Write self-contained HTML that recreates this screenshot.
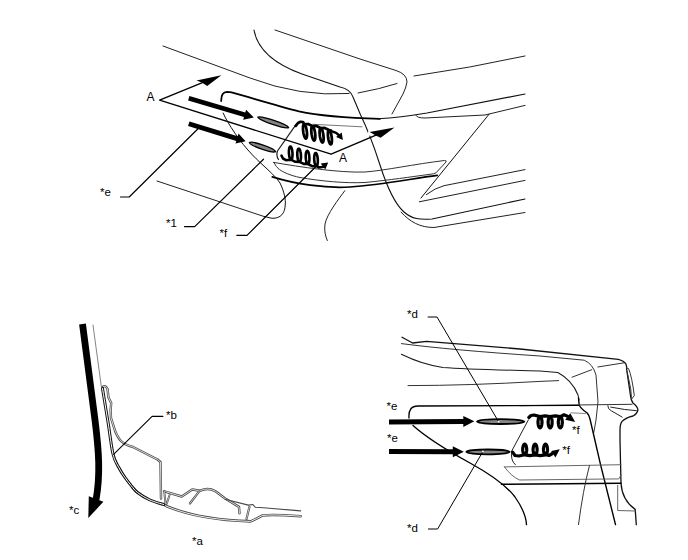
<!DOCTYPE html>
<html><head><meta charset="utf-8"><style>
html,body{margin:0;padding:0;background:#fff;width:688px;height:560px;overflow:hidden}
svg{display:block}
text{font-family:"Liberation Sans",sans-serif;fill:#000}
</style></head><body>
<svg width="688" height="560" viewBox="0 0 688 560">
<rect width="688" height="560" fill="#fff"/>
<g fill="none" stroke-linecap="round" stroke-linejoin="round">
<path d="M163,46 L250,78 Q300,97 349,93.5" stroke-width="1.0" stroke="#222"/>
<path d="M358,93 Q380,89 397,83.5" stroke-width="1.0" stroke="#222"/>
<path d="M254,30 C257,47 272,63 302,74 L340,87 Q350,89 353,97 L360.6,115 C366,126 372,140 380,165 C388,190 396,205 404,212 C412,219 420,220 432,219 L525,199" stroke-width="1.1" stroke="#111"/>
<path d="M401,212 C410,222 420,227.5 434,227.5 L525,212.5" stroke-width="1.0" stroke="#222"/>
<path d="M275,30 L360,59 L396,70.5 Q407,74 407,82 Q406,88 403,94 L392,114" stroke-width="1.0" stroke="#222"/>
<path d="M414,76 Q470,68 525,56" stroke-width="1.0" stroke="#222"/>
<path d="M221.2,101 Q221,92 227,91.8 L231.6,92.4 C255,99 278,106 299,111.4 C320,116 340,117.8 380,118.8" stroke-width="1.8" stroke="#000"/>
<path d="M378,118.8 Q400,117.5 427,113 L525,94" stroke-width="1.15" stroke="#111"/>
<path d="M223.1,113 C228,124 240,142 252.5,155 C262,165 275,175 280,183 C284,191 286,200 285.2,205 C285,213 281,218.5 272,218.3 L264.4,216.5" stroke-width="1.0" stroke="#111"/>
<path d="M157,181 L264,216.5" stroke-width="1.0" stroke="#222"/>
<path d="M313,124.3 L362,126.8" stroke-width="1.0" stroke="#777"/>
<path d="M416,115.5 Q417,118 425,118 L485,115 L525,105.4" stroke-width="1.0" stroke="#222"/>
<path d="M489,114.3 L421,198" stroke-width="1.0" stroke="#111"/>
<path d="M426.4,194.6 Q435,188 444,185.7 L525,169.6" stroke-width="1.0" stroke="#222"/>
<path d="M419.3,201.8 L525,180.4" stroke-width="1.0" stroke="#222"/>
<path d="M273.7,162.4 C300,167 340,173 365,172 C385,170.5 415,164 444.5,160.5 Q447,160.5 446,162 L436,172.8 Q434,174 430,174.3 C410,177 390,180 365,182.5 C345,183.5 320,181 300,177.5 C290,175.5 283,172 279.5,169.6 Q276,167 273.7,162.4 Z" stroke-width="1.0" stroke="#333"/>
<path d="M272.3,176.9 C295,184 325,188.5 350,187 C380,185 410,179 437.2,175.4" stroke-width="1.7" stroke="#000"/>
<path d="M344.8,190.7 C338,200 327,214 325,224 C324,231 325.5,236 327.3,240.5" stroke-width="1.0" stroke="#222"/>
<path d="M295.6,125.1 L277.5,151 Q275.8,155.5 278.5,159.5" stroke-width="1.25" stroke="#222"/>
<path d="M203,82.3 L159.6,100.1 L331.1,154.2 L376,135.2" stroke-width="1.4" stroke="#000"/>
<path d="M199,127.8 L129.2,197 L120.5,197" stroke-width="1.2" stroke="#000"/>
<path d="M263.5,159.2 L194.7,226.6 L184.5,226.6" stroke-width="1.2" stroke="#000"/>
<path d="M316,166.5 L247,235.3 L236.8,235.3" stroke-width="1.2" stroke="#000"/>
<path d="M331.8,131.4 Q337,132.5 339.5,136" stroke-width="2.4" stroke="#000"/>
<path d="M93,325 L101.4,387" stroke-width="0.8" stroke="#666"/>
<path d="M82.5,324 L95,420 C99,452 100.5,475 96,500" fill="none" stroke="#000" stroke-width="6.8" stroke-linecap="butt"/>
<path d="M102.8,387 Q105.5,384.5 107.5,389 L108.5,397.5 L111.2,403 L110.6,410 L111,418 L115,430.7 Q118,438 121,441 Q125,445 133,447 L157.5,459.5 L160.5,462 L161,498.5" stroke-width="2.4" stroke="#484848"/>
<path d="M102.8,387 Q105.5,384.5 107.5,389 L108.5,397.5 L111.2,403 L110.6,410 L111,418 L115,430.7 Q118,438 121,441 Q125,445 133,447 L157.5,459.5 L160.5,462 L161,498.5" stroke-width="0.8" stroke="#fff"/>
<path d="M164.3,491.3 L181.7,496.5 L192.2,489.5 L200.3,490.7 Q208,487 215.5,491.3 L224.8,498.3 L239,506.9 L239.5,513.3" stroke-width="2.4" stroke="#484848"/>
<path d="M164.3,491.3 L181.7,496.5 L192.2,489.5 L200.3,490.7 Q208,487 215.5,491.3 L224.8,498.3 L239,506.9 L239.5,513.3" stroke-width="0.8" stroke="#fff"/>
<path d="M199.2,491.3 L189.9,503.5" stroke-width="2.2" stroke="#484848"/>
<path d="M199.2,491.3 L189.9,503.5" stroke-width="0.7" stroke="#fff"/>
<path d="M164.3,491.3 L165.5,504 M169.5,495.3 L166.6,504" stroke-width="2.0" stroke="#484848"/>
<path d="M164.3,491.3 L165.5,504 M169.5,495.3 L166.6,504" stroke-width="0.6" stroke="#fff"/>
<path d="M225,499.3 L248.3,505.1 L252.9,504.5 L255.2,507.2 L263.4,507.7 L300.6,510.9" stroke-width="1.1" stroke="#484848"/>
<path d="M225,499.3 L248.3,505.1 L252.9,504.5 L255.2,507.2 L263.4,507.7 L300.6,510.9" stroke-width="0.01" stroke="#fff"/>
<path d="M249.4,506.9 L246.5,519" stroke-width="2.2" stroke="#484848"/>
<path d="M249.4,506.9 L246.5,519" stroke-width="0.7" stroke="#fff"/>
<path d="M165.5,505.8 C185,514 210,520 250.6,521.4 Q256,519 262.2,515.6 Q270,514 300.6,516.2" stroke-width="2.6" stroke="#484848"/>
<path d="M165.5,505.8 C185,514 210,520 250.6,521.4 Q256,519 262.2,515.6 Q270,514 300.6,516.2" stroke-width="0.9" stroke="#fff"/>
<path d="M102.5,388.5 C103.4,394.1 106.2,411.1 108,422 C109.8,432.9 111.2,446.4 113,454 C114.8,461.6 116.8,463.6 118.8,467.5 C120.8,471.4 122.9,474.5 125,477.5 C127.1,480.5 129.2,483.1 131.2,485.6 C133.3,488.1 134.4,490.1 137.5,492.5 C140.6,494.9 145.6,498 150,500 C154.4,502 161.4,503.8 163.7,504.5" stroke-width="3.0" stroke="#111"/>
<path d="M102.5,388.5 C103.4,394.1 106.2,411.1 108,422 C109.8,432.9 111.2,446.4 113,454 C114.8,461.6 116.8,463.6 118.8,467.5 C120.8,471.4 122.9,474.5 125,477.5 C127.1,480.5 129.2,483.1 131.2,485.6 C133.3,488.1 134.4,490.1 137.5,492.5 C140.6,494.9 145.6,498 150,500 C154.4,502 161.4,503.8 163.7,504.5" stroke-width="1.0" stroke="#fff"/>
<path d="M162.9,416.4 L152.1,416.4 L113.6,454.3" stroke-width="1.1" stroke="#000"/>
<path d="M402,337.2 L412.6,343 L426.5,341.4 L520,349 L618.3,359.3 Q624,361 625.7,363.6 Q626.8,366 626.6,369 L630.7,397 Q631.5,401 633,403 Q638,407 637.9,410 Q637,414 633,416 Q626,417.5 622.1,421.4 Q620,424 620,430 L620,440 L621,483.2 Q622,500 635.2,509.4 L636.3,524.6" stroke-width="1.3" stroke="#111"/>
<path d="M401.4,343.6 Q450,350 540,356 L584.2,360.2 Q593,364 596,375 L598,401.8 L596,420 L593.7,433" stroke-width="1.0" stroke="#333"/>
<path d="M401.4,354.3 C415,361 428,365.5 442.8,367.4 C470,369.5 510,370 540,371 L557.8,372.5 Q572,380 578,395 L579,400" stroke-width="1.05" stroke="#1a1a1a"/>
<path d="M578.5,398 L579.2,405 Q581,409 587.2,413 Q589,415 590,419 L600.3,463.6 L615.5,524.6" stroke-width="1.4" stroke="#000"/>
<path d="M408,385.6 Q470,385.5 540,381.4 L558.7,380.6" stroke-width="1.0" stroke="#333"/>
<path d="M572,377.2 L591.8,369.7" stroke-width="1.0" stroke="#333"/>
<path d="M597.9,367 L623.6,362.9" stroke-width="1.0" stroke="#333"/>
<path d="M626.4,367.9 L628.6,368.6 Q632,377 634.3,395.7 L631.4,399.3 M627.1,371.4 L630.7,388.6 L631.4,397" stroke-width="1.0" stroke="#333"/>
<path d="M520,405.7 L632.1,404.3" stroke-width="1.0" stroke="#333"/>
<path d="M607.9,405.7 L608.6,408.6 Q611,411 615,412.9 L622.1,417.1 M610.7,407.1 Q625,410 636.4,410.7" stroke-width="1.0" stroke="#222"/>
<path d="M409,418 Q408,406 418,406 L578.3,405.4" stroke-width="1.3" stroke="#000"/>
<path d="M413,425.5 C428,439 450,452 470,463 C490,474 506,485 515,497 C522,507 526,516 526.5,524.6" stroke-width="1.3" stroke="#000"/>
<path d="M501.5,484.3 L621,483.2" stroke-width="1.6" stroke="#000"/>
<path d="M504.4,466.9 L621,464.7" stroke-width="0.9" stroke="#555"/>
<path d="M504.4,466.9 Q512,477 519.6,480 L618.8,478.9 L621,475" stroke-width="0.9" stroke="#555"/>
<path d="M617.7,485.4 L617.7,510.5 L635.2,511" stroke-width="0.9" stroke="#555"/>
<path d="M589.4,465.8 Q583,490 578.5,524.6" stroke-width="1.0" stroke="#333"/>
<path d="M528.3,420 L512,450.5 Q510,460 515.3,464.7" stroke-width="1.0" stroke="#222"/>
<path d="M571,412.8 L585.8,413.6" stroke-width="0.9" stroke="#777"/>
</g>
<g fill="#000">
<polygon points="221.4,75.3 196.5,80.4 201.9,82.6 207.2,86"/>
<polygon points="188.1,100.5 244,117 243.2,119.8 253.8,117.5 246.1,109.8 245.3,112.6 189.4,96.1"/>
<polygon points="188,126 236.3,140.9 235.5,143.6 245.6,141.2 238.5,133.6 237.7,136.3 189.5,121.5"/>
<polygon points="342.9,139.9 336.1,136.9 338.9,134.8 341.7,132.6"/>
<polygon points="328.2,162.5 325.3,169.5 323,166.4 320.7,163.4"/>
<polygon points="88.8,496.2 103.4,501.8 88.3,518"/>
<polygon points="389,424.5 463.3,423.9 463.3,426.9 474.3,421.3 463.3,415.9 463.3,418.9 389,419.5"/>
<polygon points="389,454 452.8,454.2 452.8,457.2 463.8,451.7 452.8,446.2 452.8,449.2 389,449"/>
<polygon points="570.3,413.2 575.2,422 565.2,419.8"/>
<polygon points="551.2,451 559.8,449.2 555.4,457.6"/>
</g>
<g fill="#858585" stroke="#000" stroke-linejoin="round">
<path d="M257.9,117.2 C261.1,115.3 287.2,124.2 288.6,127.6 C285.4,129.5 259.3,120.6 257.9,117.2 Z" stroke-width="1.35"/>
<path d="M249.4,142.6 C252.2,140.6 274.6,148.3 275.6,151.6 C272.8,153.6 250.4,145.9 249.4,142.6 Z" stroke-width="1.35"/>
<path d="M477.1,421.6 C480.6,418.4 520.8,418.4 524.3,421.6 C520.8,424.8 480.6,424.8 477.1,421.6 Z" stroke-width="1.8"/>
<path d="M466.4,451.9 C469.6,448.7 506.4,448.7 509.6,451.9 C506.4,455.1 469.6,455.1 466.4,451.9 Z" stroke-width="1.8"/>
</g>
<g fill="none" stroke="#000" stroke-width="2.9" stroke-linecap="round" stroke-linejoin="round">
<path d="M295.7,125.9 L298,123 L300.5,121.8 L303,122 L304.1,124.1 L304.4,124.1 L304.6,124.3 L304.9,124.6 L305.1,125 L305.4,125.6 L305.6,126.2 L305.9,126.9 L306.1,127.7 L306.3,128.5 L306.5,129.4 L306.7,130.4 L306.8,131.3 L306.9,132.2 L307,133.2 L307,134.1 L307,134.9 L307,135.7 L306.9,136.4 L306.8,137 L306.7,137.6 L306.5,138 L306.3,138.3 L306.1,138.5 L305.9,138.5 L305.6,138.5 L305.4,138.3 L305.1,138 L304.9,137.6 L304.6,137 L304.4,136.4 L304.1,135.7 L303.9,134.9 L303.7,134.1 L303.5,133.2 L303.3,132.2 L303.2,131.3 L303.1,130.4 L303,129.4 L303,128.5 L303,127.7 L303,126.9 L303.1,126.2 L303.2,125.6 L303.3,125 L303.5,124.6 L303.7,124.3 L303.9,124.1 L304.1,124.1 L308.1,124 L312.4,126 L312.7,126.1 L312.9,126.3 L313.2,126.6 L313.4,127 L313.7,127.5 L313.9,128.1 L314.2,128.9 L314.4,129.6 L314.6,130.5 L314.8,131.4 L315,132.3 L315.1,133.3 L315.2,134.2 L315.3,135.1 L315.3,136 L315.3,136.9 L315.3,137.7 L315.2,138.4 L315.1,139 L315,139.5 L314.8,140 L314.6,140.3 L314.4,140.5 L314.2,140.5 L313.9,140.5 L313.7,140.3 L313.4,140 L313.2,139.5 L312.9,139 L312.7,138.4 L312.4,137.7 L312.2,136.9 L312,136 L311.8,135.1 L311.6,134.2 L311.5,133.3 L311.4,132.3 L311.3,131.4 L311.3,130.5 L311.3,129.6 L311.3,128.9 L311.4,128.1 L311.5,127.5 L311.6,127 L311.8,126.6 L312,126.3 L312.2,126.1 L312.4,126 L316.4,125.9 L320.7,128 L321,128 L321.2,128.2 L321.5,128.5 L321.7,129 L322,129.5 L322.2,130.1 L322.5,130.8 L322.7,131.6 L322.9,132.5 L323.1,133.4 L323.3,134.3 L323.4,135.2 L323.5,136.2 L323.6,137.1 L323.6,138 L323.6,138.9 L323.6,139.6 L323.5,140.4 L323.4,141 L323.3,141.5 L323.1,141.9 L322.9,142.2 L322.7,142.4 L322.5,142.5 L322.2,142.4 L322,142.2 L321.7,141.9 L321.5,141.5 L321.2,141 L321,140.4 L320.7,139.6 L320.5,138.9 L320.3,138 L320.1,137.1 L319.9,136.2 L319.8,135.2 L319.7,134.3 L319.6,133.4 L319.6,132.5 L319.6,131.6 L319.6,130.8 L319.7,130.1 L319.8,129.5 L319.9,129 L320.1,128.5 L320.3,128.2 L320.5,128 L320.7,128 L324.7,127.9 L329,130 L329.3,130 L329.5,130.2 L329.8,130.5 L330,130.9 L330.3,131.5 L330.5,132.1 L330.8,132.8 L331,133.6 L331.2,134.4 L331.4,135.3 L331.6,136.3 L331.7,137.2 L331.8,138.1 L331.9,139.1 L331.9,140 L331.9,140.8 L331.9,141.6 L331.8,142.3 L331.7,142.9 L331.6,143.5 L331.4,143.9 L331.2,144.2 L331,144.4 L330.8,144.4 L330.5,144.4 L330.3,144.2 L330,143.9 L329.8,143.5 L329.5,142.9 L329.3,142.3 L329,141.6 L328.8,140.8 L328.6,140 L328.4,139.1 L328.2,138.1 L328.1,137.2 L328,136.3 L327.9,135.3 L327.9,134.4 L327.9,133.6 L327.9,132.8 L328,132.1 L328.1,131.5 L328.2,130.9 L328.4,130.5 L328.6,130.2 L328.8,130 L329,130 L331,130.5" stroke-width="2.75"/>
<path d="M281.5,155.7 L283,158.5 L286,160.2 L291,159.7 L290.8,159.6 L290.6,159.5 L290.3,159.2 L290.1,158.8 L289.9,158.3 L289.7,157.8 L289.5,157.1 L289.3,156.4 L289.2,155.6 L289.1,154.8 L289,154 L288.9,153.1 L288.9,152.2 L288.9,151.4 L288.9,150.6 L289,149.8 L289.1,149.1 L289.2,148.4 L289.3,147.9 L289.5,147.4 L289.7,147 L289.9,146.7 L290.1,146.6 L290.4,146.5 L290.6,146.6 L290.8,146.7 L291.1,147 L291.3,147.4 L291.5,147.9 L291.7,148.4 L291.9,149.1 L292.1,149.8 L292.2,150.6 L292.3,151.4 L292.4,152.2 L292.5,153.1 L292.5,154 L292.5,154.8 L292.5,155.6 L292.4,156.4 L292.3,157.1 L292.2,157.8 L292.1,158.3 L291.9,158.8 L291.7,159.2 L291.5,159.5 L291.3,159.6 L291,159.7 L295.3,161.8 L299.5,161.9 L299.2,161.8 L299,161.6 L298.8,161.4 L298.5,161 L298.3,160.5 L298.1,159.9 L297.9,159.3 L297.7,158.6 L297.6,157.8 L297.5,157 L297.4,156.1 L297.3,155.3 L297.3,154.4 L297.3,153.6 L297.3,152.7 L297.4,152 L297.5,151.3 L297.6,150.6 L297.8,150 L297.9,149.6 L298.1,149.2 L298.3,148.9 L298.6,148.7 L298.8,148.7 L299,148.7 L299.3,148.9 L299.5,149.2 L299.7,149.6 L300,150 L300.2,150.6 L300.4,151.3 L300.5,152 L300.7,152.7 L300.8,153.6 L300.9,154.4 L300.9,155.3 L301,156.1 L301,157 L300.9,157.8 L300.9,158.6 L300.8,159.3 L300.7,159.9 L300.5,160.5 L300.3,161 L300.1,161.4 L299.9,161.6 L299.7,161.8 L299.5,161.9 L303.7,163.9 L307.9,164 L307.7,164 L307.4,163.8 L307.2,163.5 L307,163.1 L306.7,162.7 L306.5,162.1 L306.3,161.4 L306.2,160.7 L306,160 L305.9,159.1 L305.8,158.3 L305.8,157.4 L305.7,156.6 L305.7,155.7 L305.8,154.9 L305.8,154.1 L305.9,153.4 L306,152.8 L306.2,152.2 L306.4,151.7 L306.6,151.3 L306.8,151.1 L307,150.9 L307.2,150.8 L307.5,150.9 L307.7,151.1 L307.9,151.3 L308.2,151.7 L308.4,152.2 L308.6,152.8 L308.8,153.4 L309,154.1 L309.1,154.9 L309.2,155.7 L309.3,156.6 L309.4,157.4 L309.4,158.3 L309.4,159.1 L309.4,160 L309.3,160.7 L309.2,161.4 L309.1,162.1 L308.9,162.7 L308.8,163.1 L308.6,163.5 L308.4,163.8 L308.1,164 L307.9,164 L312.2,166.1 L316.3,166.2 L316.1,166.1 L315.9,166 L315.6,165.7 L315.4,165.3 L315.2,164.8 L315,164.3 L314.8,163.6 L314.6,162.9 L314.5,162.1 L314.4,161.3 L314.3,160.5 L314.2,159.6 L314.2,158.7 L314.2,157.9 L314.2,157.1 L314.3,156.3 L314.4,155.6 L314.5,154.9 L314.6,154.4 L314.8,153.9 L315,153.5 L315.2,153.2 L315.4,153.1 L315.7,153 L315.9,153.1 L316.1,153.2 L316.4,153.5 L316.6,153.9 L316.8,154.4 L317,154.9 L317.2,155.6 L317.4,156.3 L317.5,157.1 L317.6,157.9 L317.7,158.7 L317.8,159.6 L317.8,160.5 L317.8,161.3 L317.8,162.1 L317.7,162.9 L317.6,163.6 L317.5,164.3 L317.4,164.8 L317.2,165.3 L317,165.7 L316.8,166 L316.6,166.1 L316.3,166.2 L316.5,166.2 L319,167.5 L323.8,166.8" stroke-width="2.6"/>
<path d="M528.8,417.5 L531,415.5 L534,415 L540,416.6 L540.3,416.6 L540.5,416.8 L540.8,417 L541,417.4 L541.2,417.8 L541.4,418.2 L541.6,418.8 L541.7,419.4 L541.8,420.1 L541.9,420.8 L542,421.5 L542,422.2 L542,422.9 L541.9,423.6 L541.8,424.3 L541.7,425 L541.6,425.6 L541.4,426.2 L541.2,426.6 L541,427 L540.8,427.4 L540.5,427.6 L540.3,427.8 L540,427.8 L539.7,427.8 L539.5,427.6 L539.2,427.4 L539,427 L538.8,426.6 L538.6,426.2 L538.4,425.6 L538.3,425 L538.2,424.3 L538.1,423.6 L538,422.9 L538,422.2 L538,421.5 L538.1,420.8 L538.2,420.1 L538.3,419.4 L538.4,418.8 L538.6,418.2 L538.8,417.8 L539,417.4 L539.2,417 L539.5,416.8 L539.7,416.6 L540,416.6 L545.1,415.8 L550.1,416.6 L550.4,416.6 L550.7,416.8 L550.9,417 L551.1,417.4 L551.4,417.8 L551.6,418.2 L551.7,418.8 L551.9,419.4 L552,420.1 L552.1,420.8 L552.1,421.5 L552.1,422.2 L552.1,422.9 L552.1,423.6 L552,424.3 L551.9,425 L551.7,425.6 L551.6,426.2 L551.4,426.6 L551.1,427 L550.9,427.4 L550.7,427.6 L550.4,427.8 L550.1,427.8 L549.9,427.8 L549.6,427.6 L549.4,427.4 L549.1,427 L548.9,426.6 L548.7,426.2 L548.6,425.6 L548.4,425 L548.3,424.3 L548.2,423.6 L548.2,422.9 L548.1,422.2 L548.2,421.5 L548.2,420.8 L548.3,420.1 L548.4,419.4 L548.6,418.8 L548.7,418.2 L548.9,417.8 L549.1,417.4 L549.4,417 L549.6,416.8 L549.9,416.6 L550.1,416.6 L555.2,415.8 L560.3,416.6 L560.6,416.6 L560.8,416.8 L561.1,417 L561.3,417.4 L561.5,417.8 L561.7,418.2 L561.9,418.8 L562,419.4 L562.1,420.1 L562.2,420.8 L562.3,421.5 L562.3,422.2 L562.3,422.9 L562.2,423.6 L562.1,424.3 L562,425 L561.9,425.6 L561.7,426.2 L561.5,426.6 L561.3,427 L561.1,427.4 L560.8,427.6 L560.6,427.8 L560.3,427.8 L560,427.8 L559.8,427.6 L559.5,427.4 L559.3,427 L559.1,426.6 L558.9,426.2 L558.7,425.6 L558.6,425 L558.5,424.3 L558.4,423.6 L558.3,422.9 L558.3,422.2 L558.3,421.5 L558.4,420.8 L558.5,420.1 L558.6,419.4 L558.7,418.8 L558.9,418.2 L559.1,417.8 L559.3,417.4 L559.5,417 L559.8,416.8 L560,416.6 L560.3,416.6 L564,414.8 L567.5,416.2" stroke-width="3.2"/>
<path d="M512.6,452.1 L515,455.5 L519,456 L524.7,454.8 L524.4,454.8 L524.2,454.6 L523.9,454.4 L523.7,454.1 L523.5,453.7 L523.3,453.2 L523.1,452.7 L523,452.1 L522.9,451.5 L522.8,450.9 L522.7,450.2 L522.7,449.5 L522.7,448.8 L522.8,448.1 L522.9,447.5 L523,446.9 L523.1,446.3 L523.3,445.8 L523.5,445.3 L523.7,444.9 L523.9,444.6 L524.2,444.4 L524.4,444.2 L524.7,444.2 L525,444.2 L525.2,444.4 L525.5,444.6 L525.7,444.9 L525.9,445.3 L526.1,445.8 L526.3,446.3 L526.4,446.9 L526.5,447.5 L526.6,448.1 L526.7,448.8 L526.7,449.5 L526.7,450.2 L526.6,450.9 L526.5,451.5 L526.4,452.1 L526.3,452.7 L526.1,453.2 L525.9,453.7 L525.7,454.1 L525.5,454.4 L525.2,454.6 L525,454.8 L524.7,454.8 L529.9,455.6 L535.1,454.8 L534.8,454.8 L534.6,454.6 L534.3,454.4 L534.1,454.1 L533.9,453.7 L533.7,453.2 L533.5,452.7 L533.4,452.1 L533.3,451.5 L533.2,450.9 L533.1,450.2 L533.1,449.5 L533.1,448.8 L533.2,448.1 L533.3,447.5 L533.4,446.9 L533.5,446.3 L533.7,445.8 L533.9,445.3 L534.1,444.9 L534.3,444.6 L534.6,444.4 L534.8,444.2 L535.1,444.2 L535.4,444.2 L535.6,444.4 L535.9,444.6 L536.1,444.9 L536.3,445.3 L536.5,445.8 L536.7,446.3 L536.8,446.9 L536.9,447.5 L537,448.1 L537.1,448.8 L537.1,449.5 L537.1,450.2 L537,450.9 L536.9,451.5 L536.8,452.1 L536.7,452.7 L536.5,453.2 L536.3,453.7 L536.1,454.1 L535.9,454.4 L535.6,454.6 L535.4,454.8 L535.1,454.8 L540.3,455.6 L545.5,454.8 L545.2,454.8 L545,454.6 L544.7,454.4 L544.5,454.1 L544.3,453.7 L544.1,453.2 L543.9,452.7 L543.8,452.1 L543.7,451.5 L543.6,450.9 L543.5,450.2 L543.5,449.5 L543.5,448.8 L543.6,448.1 L543.7,447.5 L543.8,446.9 L543.9,446.3 L544.1,445.8 L544.3,445.3 L544.5,444.9 L544.7,444.6 L545,444.4 L545.2,444.2 L545.5,444.2 L545.8,444.2 L546,444.4 L546.3,444.6 L546.5,444.9 L546.7,445.3 L546.9,445.8 L547.1,446.3 L547.2,446.9 L547.3,447.5 L547.4,448.1 L547.5,448.8 L547.5,449.5 L547.5,450.2 L547.4,450.9 L547.3,451.5 L547.2,452.1 L547.1,452.7 L546.9,453.2 L546.7,453.7 L546.5,454.1 L546.3,454.4 L546,454.6 L545.8,454.8 L545.5,454.8 L549,455.5 L552.5,453.5" stroke-width="3.2"/>
</g>
<path d="M369.3,131.5 L368.6,136" stroke="#fff" stroke-width="2.2"/><polygon points="394.5,127.6 369.7,132.1 375.7,135.4 380.6,137.7"/>
<path d="M427.7,317 L437,317 L498.6,421.7" stroke="#000" stroke-width="1" fill="none"/><circle cx="498.6" cy="421.7" r="0.9" fill="#fff"/>
<path d="M482.9,451.5 L437.6,529 L428,529" stroke="#000" stroke-width="1" fill="none"/><circle cx="482.9" cy="451.5" r="0.9" fill="#fff"/>
<text x="146.5" y="101" font-size="12">A</text>
<text x="339" y="162" font-size="12">A</text>
<text x="100" y="196" font-size="11.5">*e</text>
<text x="166" y="227" font-size="11.5">*1</text>
<text x="219.5" y="237" font-size="11.5">*f</text>
<text x="69" y="514" font-size="11.5">*c</text>
<text x="192" y="545" font-size="11.5">*a</text>
<text x="166" y="419" font-size="11.5">*b</text>
<text x="407" y="318" font-size="11.5">*d</text>
<text x="407" y="532" font-size="11.5">*d</text>
<text x="386.5" y="410" font-size="11.5">*e</text>
<text x="387" y="442" font-size="11.5">*e</text>
<text x="572" y="433.5" font-size="11.5">*f</text>
<text x="562.3" y="453.5" font-size="11.5">*f</text>
</svg>
</body></html>
